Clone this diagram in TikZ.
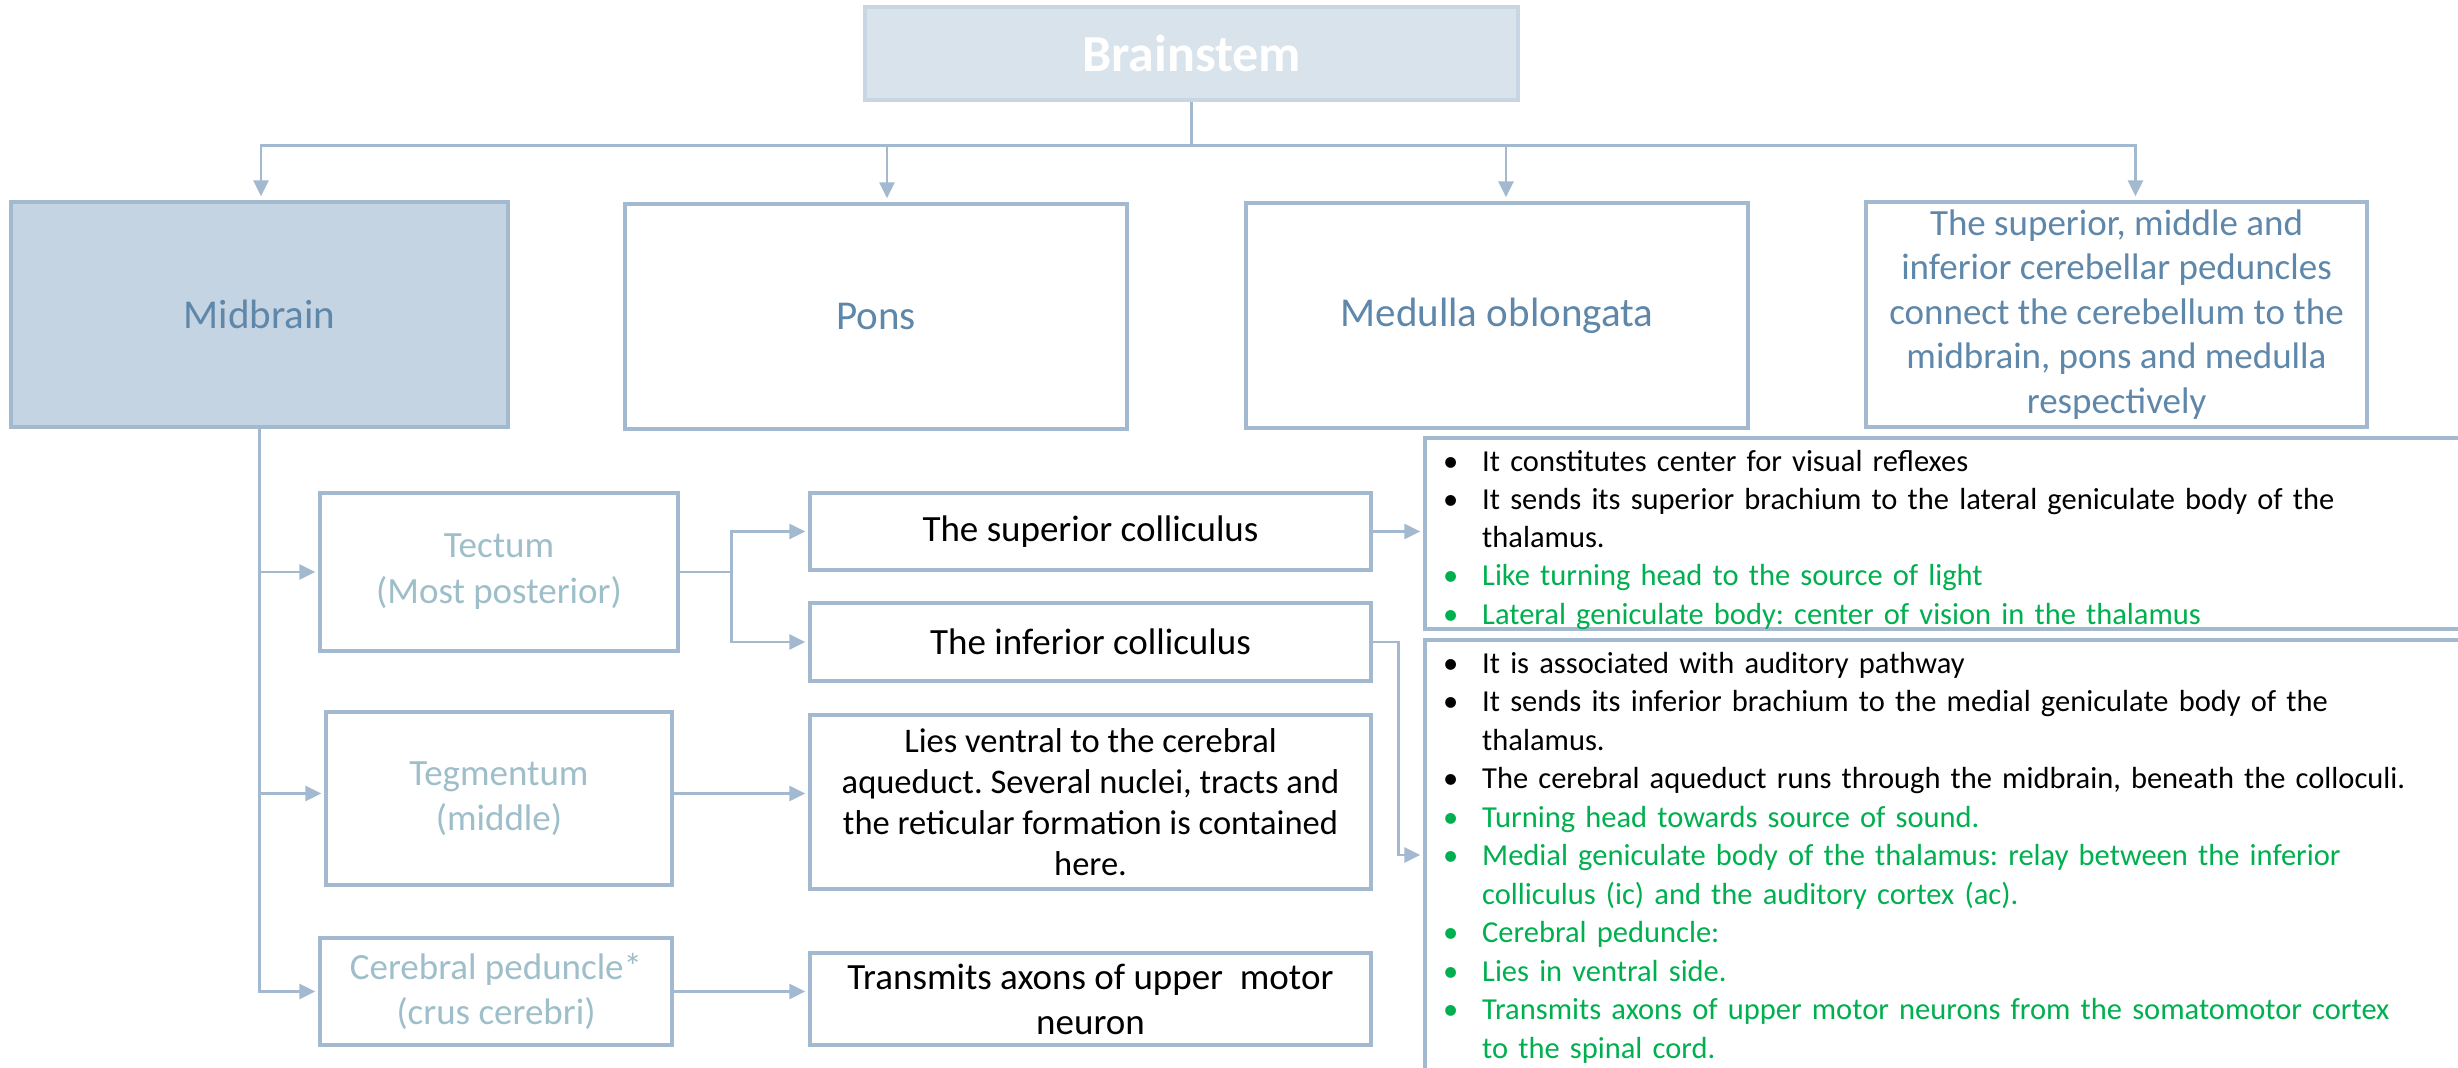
\documentclass[tikz,border=0pt]{standalone}
\usepackage{fontspec}
\setmainfont{Carlito}
\usetikzlibrary{arrows.meta}
\definecolor{lineblue}{HTML}{A2B9CF}
\definecolor{midfill}{HTML}{C5D4E2}
\definecolor{brainfill}{HTML}{D9E3EC}
\definecolor{brainedge}{HTML}{C8D6E3}
\definecolor{titleblue}{HTML}{5E87AA}
\definecolor{lightteal}{HTML}{9EBFCA}
\definecolor{bgreen}{HTML}{00B050}
\frenchspacing
\newcommand\myBody{\fontsize{30.5}{38.3}\selectfont}
\newcommand\myBodyB{\fontsize{30.5}{38.5}\selectfont}
\newcommand\myMid{\fontsize{37}{45}\selectfont}
\newcommand\myTop{\fontsize{41}{48}\selectfont}
\newcommand\bitem[1]{\noindent\hangindent=40pt\hangafter=1\makebox[40pt][l]{\hspace{1pt}\textbullet}#1\par}
\begin{document}
\begin{tikzpicture}[x=1pt,y=-1pt,
  box/.style={draw=lineblue, line width=3.5pt, inner sep=0pt, align=center, fill=white},
  conn/.style={draw=lineblue, line width=2.8pt},
  arr/.style={conn, -{Triangle[length=16pt,width=15pt]}, shorten >=3pt},
  subtext/.style={text=lightteal, font=\myMid},
  blacktext/.style={text=black, font=\myMid}]
\useasboundingbox[fill=white] (0,0) rectangle (2458,1068);

% top level
\node[box, fill=brainfill, draw=brainedge, minimum width=653pt, minimum height=93pt,
      font=\fontsize{52}{60}\selectfont\bfseries, text=white] (brain) at (1191.5,53.5) {Brainstem};
\node[box, fill=midfill, minimum width=497pt, minimum height=225pt, font=\myTop, text=titleblue] (mid) at (259.5,314.5) {Midbrain};
\node[box, minimum width=502pt, minimum height=225pt, font=\myTop, text=titleblue] (pons) at (876,316.5) {Pons};
\node[box, minimum width=502pt, minimum height=225pt, font=\myTop, text=titleblue] (med) at (1497,315.5) {Medulla oblongata};
\node[box, minimum width=501pt, minimum height=225pt, font=\fontsize{37}{44.5}\selectfont, text=titleblue] (ped) at (2116.5,314.5)
  {The superior, middle and\\inferior cerebellar peduncles\\connect the cerebellum to the\\midbrain, pons and medulla\\respectively};

% second level
\node[box, minimum width=358pt, minimum height=158pt, subtext, font=\fontsize{37}{46}\selectfont] (tect) at (499,572) {Tectum\\(Most posterior)};
\node[box, minimum width=346pt, minimum height=173pt, subtext] (teg) at (499,798.5) {Tegmentum\\(middle)};
\node[box, minimum width=352pt, minimum height=107pt, subtext] (cp) at (496,991.5) {Cerebral peduncle*\\(crus cerebri)};

\node[box, minimum width=561pt, minimum height=77pt, blacktext] (sc) at (1090.5,531.5) {The superior colliculus};
\node[box, minimum width=561pt, minimum height=78pt, blacktext] (ic) at (1090.5,642) {The inferior colliculus};
\node[box, minimum width=561pt, minimum height=174pt, text=black, font=\fontsize{34.5}{41}\selectfont] (lies) at (1090.5,802)
  {Lies ventral to the cerebral\\aqueduct. Several nuclei, tracts and\\the reticular formation is contained\\here.};
\node[box, minimum width=561pt, minimum height=92pt, blacktext] (trans) at (1090.5,999) {Transmits axons of upper\ \ motor\\neuron};

% bullet boxes
\node[box, minimum width=1070pt, minimum height=191pt] (b1) at (1960,533.5) {};
\node[box, minimum width=1070pt, minimum height=460pt] (b2) at (1960,870) {};

\node[anchor=base west, text width=1010pt, align=left, inner sep=0pt, font=\myBody] (b1t) at (1442,471) {%
\bitem{It constitutes center for visual reflexes}%
\bitem{It sends its superior brachium to the lateral geniculate body of the\newline thalamus.}%
\color{bgreen}%
\bitem{Like turning head to the source of light}%
\bitem{Lateral geniculate body: center of vision in the thalamus}};

\node[anchor=base west, text width=1010pt, align=left, inner sep=0pt, font=\myBodyB] (b2t) at (1442,673) {%
\bitem{It is associated with auditory pathway}%
\bitem{It sends its inferior brachium to the medial geniculate body of the\newline thalamus.}%
\bitem{The cerebral aqueduct runs through the midbrain, beneath the colloculi.}%
\color{bgreen}%
\bitem{Turning head towards source of sound.}%
\bitem{Medial geniculate body of the thalamus: relay between the inferior\newline colliculus (ic) and the auditory cortex (ac).}%
\bitem{Cerebral peduncle:}%
\bitem{Lies in ventral side.}%
\bitem{Transmits axons of upper motor neurons from the somatomotor cortex\newline to the spinal cord.}};

% connectors from brainstem
\draw[arr, shorten >=4pt] (brain.south) -- ++(0,44) -| ([xshift=1.5pt]mid.north);
\draw[arr, shorten >=4pt] (brain.south) -- ++(0,44) -| ([xshift=11pt]pons.north);
\draw[arr, shorten >=4pt] (brain.south) -- ++(0,44) -| ([xshift=9pt]med.north);
\draw[arr, shorten >=4pt] (brain.south) -- ++(0,44) -| ([xshift=19pt]ped.north);

% midbrain branches
\draw[arr] (mid.south) |- (tect.west);
\draw[arr] (mid.south) |- ([yshift=5pt]teg.west);
\draw[arr] (mid.south) |- (cp.west);

% tectum to colliculi
\draw[arr] (tect.east) -- ++(52,0) |- (sc.west);
\draw[arr] (tect.east) -- ++(52,0) |- (ic.west);

\draw[arr] ([yshift=5pt]teg.east) -- ([yshift=5pt]teg.east -| lies.west);
\draw[arr] (cp.east) -- (cp.east -| trans.west);

% colliculi to bullet boxes
\draw[arr] (sc.east) -- (sc.east -| b1.west);
\draw[arr] (ic.east) -- ++(26,0) |- ([yshift=15pt]b2.west);
\end{tikzpicture}
\end{document}
